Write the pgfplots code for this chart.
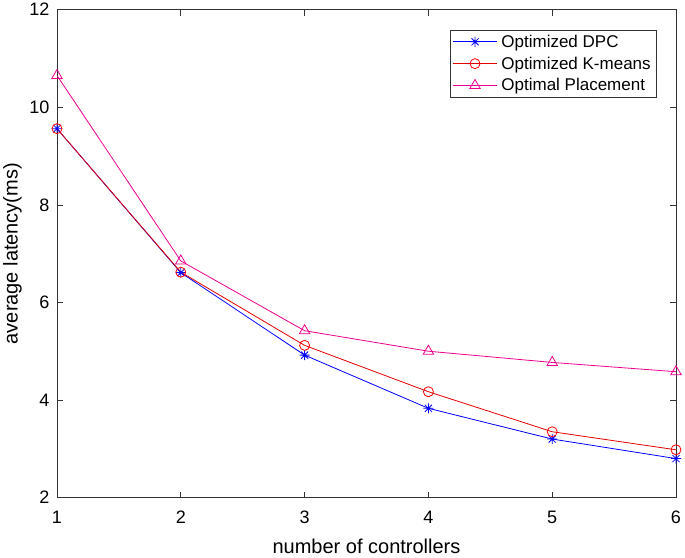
\documentclass[border=0pt]{standalone}
\usepackage{pgfplots}
\pgfplotsset{compat=1.18}
\usetikzlibrary{calc}
\usepackage{fontspec}
\setmainfont{Liberation Sans}
\pgfdeclareplotmark{mstar}{%
 \pgfpathmoveto{\pgfqpoint{-\pgfplotmarksize}{0pt}}\pgfpathlineto{\pgfqpoint{\pgfplotmarksize}{0pt}}%
 \pgfpathmoveto{\pgfqpoint{0pt}{-\pgfplotmarksize}}\pgfpathlineto{\pgfqpoint{0pt}{\pgfplotmarksize}}%
 \pgfpathmoveto{\pgfqpoint{-0.707\pgfplotmarksize}{-0.707\pgfplotmarksize}}\pgfpathlineto{\pgfqpoint{0.707\pgfplotmarksize}{0.707\pgfplotmarksize}}%
 \pgfpathmoveto{\pgfqpoint{-0.707\pgfplotmarksize}{0.707\pgfplotmarksize}}\pgfpathlineto{\pgfqpoint{0.707\pgfplotmarksize}{-0.707\pgfplotmarksize}}%
 \pgfusepathqstroke}
\begin{document}
\begin{tikzpicture}
\begin{axis}[
  scale only axis,
  width=619pt, height=488pt,
  xmin=1, xmax=6, ymin=2, ymax=12,
  xtick={1,2,3,4,5,6}, ytick={2,4,6,8,10,12},
  tick align=inside,
  major tick length=6pt,
  tick style={black!80, line width=0.6pt},
  axis line style={black!80, line width=0.8pt},
  /pgf/number format/assume math mode=true,
  ticklabel style={font=\fontsize{18}{20}\selectfont},
  xticklabel style={yshift=-10pt},
  yticklabel style={xshift=-4pt},
  xlabel={number of controllers},
  ylabel={average latency(ms)},
  label style={font=\fontsize{20}{22}\selectfont},
  xlabel style={at={(axis description cs:0.5,0)}, anchor=base, yshift=-56pt},
  ylabel style={at={(axis description cs:-0.0872,0.5)}, anchor=north, inner sep=0pt, rotate=0},
  legend style={at={(1,1)}, anchor=north east, xshift=-19pt, yshift=-20pt,
    draw=black!80, line width=0.6pt, font=\fontsize{17}{20}\selectfont,
    nodes={inner sep=4pt}, inner xsep=2pt, inner ysep=1pt, cells={anchor=west}},
  legend image code/.code={\draw[mark repeat=2,mark phase=2] plot coordinates {(0pt,0pt) (22pt,0pt) (44pt,0pt)};},
]
\addplot[blue, line width=0.8pt, mark=mstar, mark size=5pt, mark options={line width=0.8pt}]
  coordinates {(1,9.56) (2,6.61) (3,4.92) (4,3.83) (5,3.20) (6,2.80)};
\addlegendentry{Optimized DPC}
\addplot[red!90!black, line width=0.8pt, mark=o, mark size=5pt, mark options={red, line width=0.8pt}]
  coordinates {(1,9.56) (2,6.62) (3,5.12) (4,4.17) (5,3.35) (6,2.98)};
\addlegendentry{Optimized K-means}
\addplot[magenta, line width=0.8pt, mark=triangle, mark size=6pt, mark options={line width=0.8pt}]
  coordinates {(1,10.65) (2,6.85) (3,5.42) (4,5.00) (5,4.77) (6,4.58)};
\addlegendentry{Optimal Placement}
\end{axis}
\path (current axis.south west) ++(-57pt,-58pt) rectangle ($(current axis.north east)+(9pt,7pt)$);
\end{tikzpicture}
\end{document}
